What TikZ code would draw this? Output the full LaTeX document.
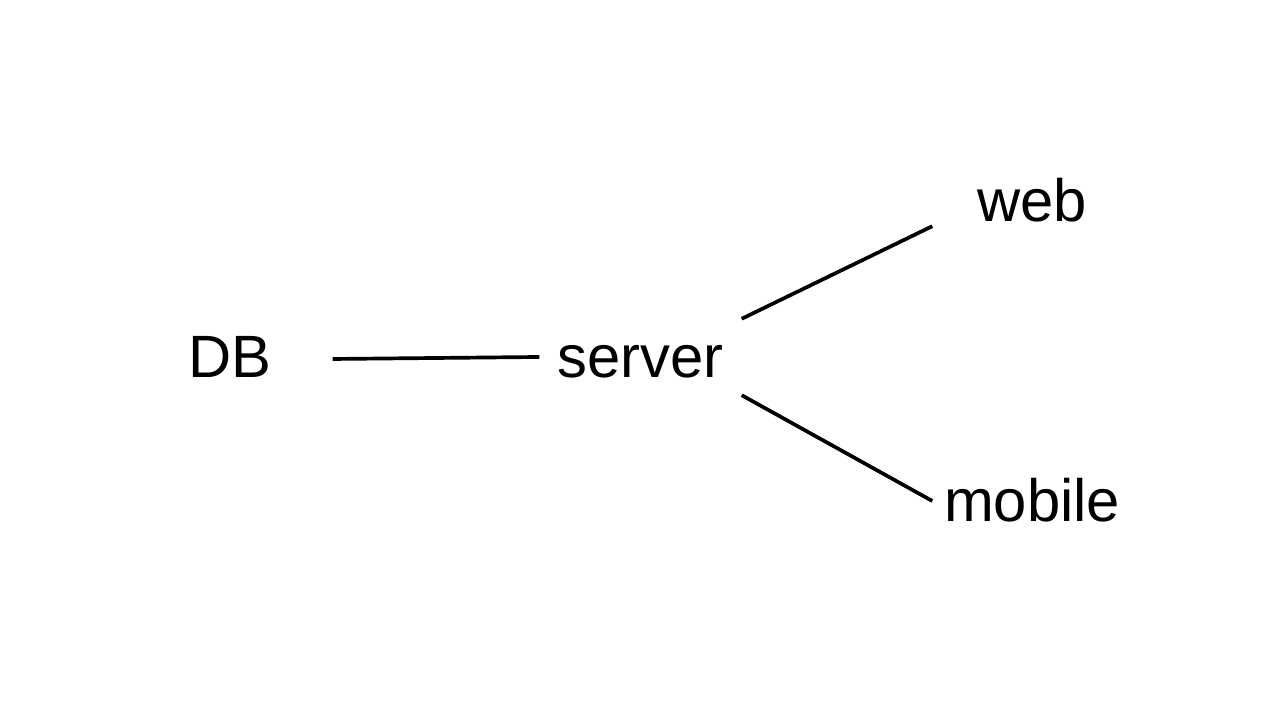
\documentclass[tikz,border=0pt]{standalone}
\usepackage{fontspec}
\setmainfont{Liberation Sans}
\usetikzlibrary{positioning}

\begin{document}
\begin{tikzpicture}[lbl/.style={inner sep=0pt, font=\fontsize{17}{20}\selectfont, text height=11.7pt, text depth=0pt}, link/.style={line width=1.05pt}]
\useasboundingbox (0,0) rectangle (12.8,7.2);
% 数据库与服务器
\node[lbl, minimum width=2.04cm] (db) at (2.30,3.63) {DB};
\node[lbl, minimum width=2.01cm, minimum height=0.75cm] (server) at (6.405,3.63) {server};

% 客户端
\node[lbl, minimum width=1.98cm, minimum height=0.49cm] (web) at (10.32,5.19) {web};
\node[lbl, minimum width=1.98cm] (mobile) at (10.32,2.19) {mobile};

% 连接线
\draw[link] ([yshift=-0.02cm]db.east) -- (server.west);
\draw[link] (server.north east) -- (web.south west);
\draw[link] (server.south east) -- (mobile.west);
\end{tikzpicture}
\end{document}
